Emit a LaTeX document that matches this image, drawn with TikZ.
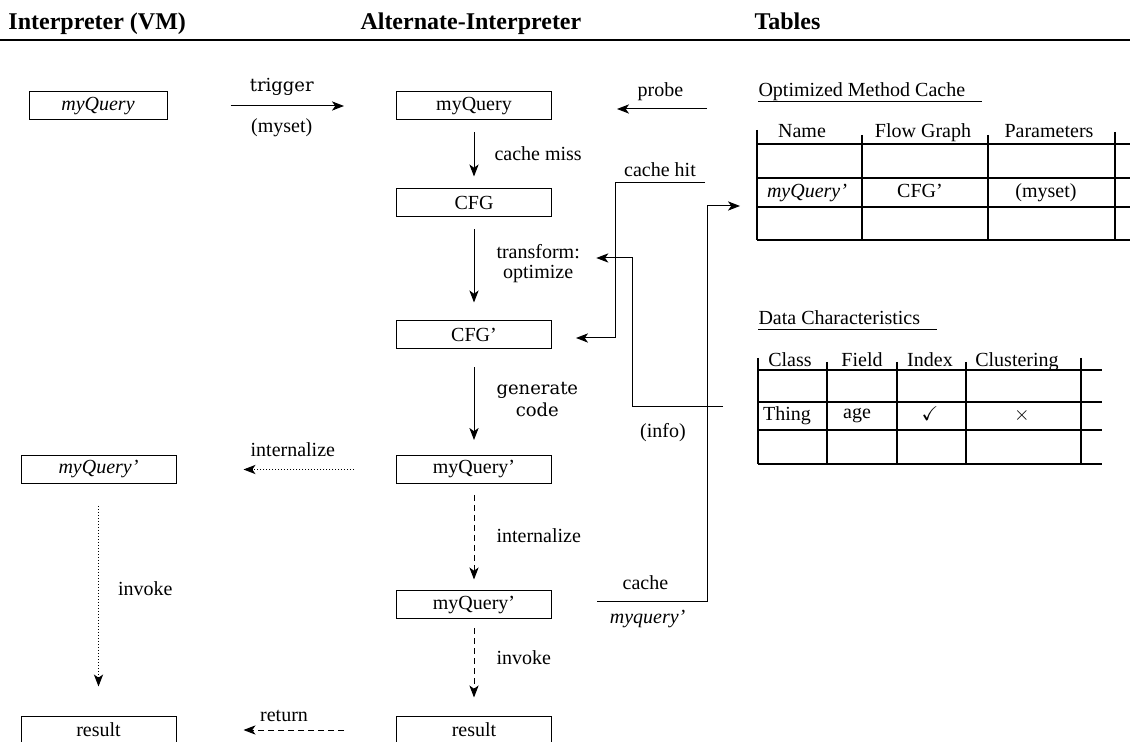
\documentclass[tikz,border=0pt]{standalone}
\usepackage{amssymb}
\usepackage{fontspec}
\setmainfont{Liberation Serif}
\newfontfamily\schfont{DejaVu Serif}
\usetikzlibrary{arrows.meta}

\begin{document}
\begin{tikzpicture}[x=0.5pt,y=-0.5pt,line width=0.5pt,
    box/.style={draw,minimum width=77.5pt,minimum height=14pt,inner sep=0pt},
    lbl/.style={inner sep=0pt,text height=7pt,text depth=2pt},
    flow/.style={-{Stealth[length=6pt,width=4.6pt,inset=1.6pt]}},
    dots/.style={dash pattern=on 0.5pt off 1pt},
    dashes/.style={dash pattern=on 3pt off 2pt},
    head/.style={font=\fontsize{12}{12}\selectfont\bfseries,inner sep=0pt,anchor=base west},
    grid/.style={line width=0.6pt}]
      \useasboundingbox (0,0) rectangle (1130,742);

      \node[head] (vmhead) at (8,30) {Interpreter (VM)};
      \node[head] (althead) at (360,30) {Alternate-Interpreter};
      \node[head] (tabhead) at (754,30) {Tables};
      \draw[line width=0.7pt] (0,40) -- (1130,40);

      \node[box,minimum width=69pt,font=\itshape] (vmq) at (98,106) {myQuery};
      \node[box,font=\itshape] (vmqp) at (98.5,469.5) {myQuery'};
      \node[box] (vres) at (98.5,730) {result};

      \node[box] (mq) at (474,106) {myQuery};
      \node[box] (cfg) at (474,203) {CFG};
      \node[box] (cfgp) at (474,335) {CFG'};
      \node[box] (mqp) at (474,469.5) {myQuery'};
      \node[box] (mqc) at (474,605) {myQuery'};
      \node[box] (res) at (474,730) {result};

      \draw[flow,shorten <=31.5pt,shorten >=26pt] (vmq) -- (mq)
        node[midway,lbl,above=5pt,font=\schfont\fontsize{9}{9}\selectfont] {trigger}
        node[midway,lbl,below=6pt] {(myset)};
      \draw[flow,shorten <=6pt,shorten >=6pt] (mq) -- (cfg)
        node[pos=0.52,lbl,right=10pt] {cache miss};
      \draw[flow,shorten <=6pt,shorten >=9pt] (cfg) -- (cfgp)
        node[pos=0.45,inner sep=0pt,right=11pt,align=center,font=\fontsize{10}{10}\selectfont] (optl) {transform:\\optimize};
      \draw[flow,shorten <=9pt,shorten >=7.5pt] (cfgp) -- (mqp)
        node[pos=0.47,inner sep=0pt,right=11pt,align=center,font=\schfont\fontsize{9}{11}\selectfont] {generate\\code};
      \draw[flow,dashes,shorten <=5.5pt,shorten >=5.5pt] (mqp) -- (mqc)
        node[midway,lbl,right=11pt] {internalize};
      \draw[flow,dashes,shorten <=4.5pt,shorten >=9pt] (mqc) -- (res)
        node[pos=0.42,lbl,right=11pt] {invoke};

      \draw[flow,dots,shorten <=21pt,shorten >=33.5pt] (mqp) -- (vmqp)
        node[pos=0.47,lbl,above=4pt] {internalize};
      \draw[flow,dots,shorten <=11pt,shorten >=14.5pt] (vmqp) -- (vres)
        node[pos=0.46,lbl,right=9.5pt] {invoke};
      \draw[flow,dashes,shorten <=26pt,shorten >=33.5pt] (res) -- (vres)
        node[pos=0.51,lbl,above=2pt] {return};

      \coordinate (probeA) at (707,109);
      \draw[flow,shorten >=32.5pt] (probeA) -- (probeA -| mq.east)
        node[pos=0.3,lbl,above=4pt] {probe};

      \coordinate (hitA) at (705,183);
      \coordinate (hitB) at (615,338);
      \draw[flow,shorten >=12pt] (hitA) -| node[pos=0.25,lbl,above=1pt] {cache hit} (hitB) -- (hitB -| cfgp.east);

      \coordinate (infoA) at (723,407);
      \coordinate (infoB) at (632,258);
      \draw[flow,shorten >=8pt] (infoA) -| node[pos=0.33,lbl,below=8pt] {(info)} (infoB) -- (infoB -| optl.east);

      \coordinate (cacheA) at (597,602);
      \coordinate (cacheC) at (707,206);
      \coordinate (cacheB) at (740,206);
      \draw[flow] (cacheA) -| node[pos=0.22,lbl,above=4pt] {cache}
        node[pos=0.23,lbl,below=3.5pt,font=\itshape] {myquery'} (cacheC) -- (cacheB);

      \node[lbl,anchor=base west] (omct) at (758,97) {Optimized Method Cache};
      \draw ([yshift=-2.5pt]omct.base west) -- ++(224,0);
      \draw[grid] (757,130) -- (757,240);
      \foreach \x in {862,988} \draw[grid] (\x,135) -- (\x,240);
      \draw[grid] (1115,132) -- (1115,240);
      \foreach \y in {144,178,207,240} \draw[grid] (757,\y) -- (1130,\y);
      \node[lbl] (nameh) at (802,133) {Name};
      \node[lbl] (flowh) at (923,133) {Flow Graph};
      \node[lbl] (parh) at (1049,133) {Parameters};
      \node[lbl,font=\itshape] (namec) at (807,193) {myQuery'};
      \node[lbl] (flowc) at (920,193) {CFG'};
      \node[lbl] (parc) at (1046,193) {(myset)};

      \node[lbl,anchor=base west] (dct) at (758,325) {Data Characteristics};
      \draw ([yshift=-2.5pt]dct.base west) -- ++(179,0);
      \draw[grid] (758,358) -- (758,464);
      \foreach \x in {827,897,966} \draw[grid] (\x,362) -- (\x,464);
      \draw[grid] (1081,358) -- (1081,464);
      \foreach \y in {370,402,430,464} \draw[grid] (758,\y) -- (1102,\y);
      \node[lbl] (classh) at (790,362) {Class};
      \node[lbl] (fieldh) at (862,362) {Field};
      \node[lbl] (indexh) at (930,362) {Index};
      \node[lbl] (clusth) at (1017,362) {Clustering};
      \node[lbl] (classc) at (787,416) {Thing};
      \node[lbl] (fieldc) at (857,414) {age};
      \node[lbl] (indexc) at (930,416) {$\checkmark$};
      \node[lbl] (clustc) at (1022,416) {$\times$};
\end{tikzpicture}
\end{document}
